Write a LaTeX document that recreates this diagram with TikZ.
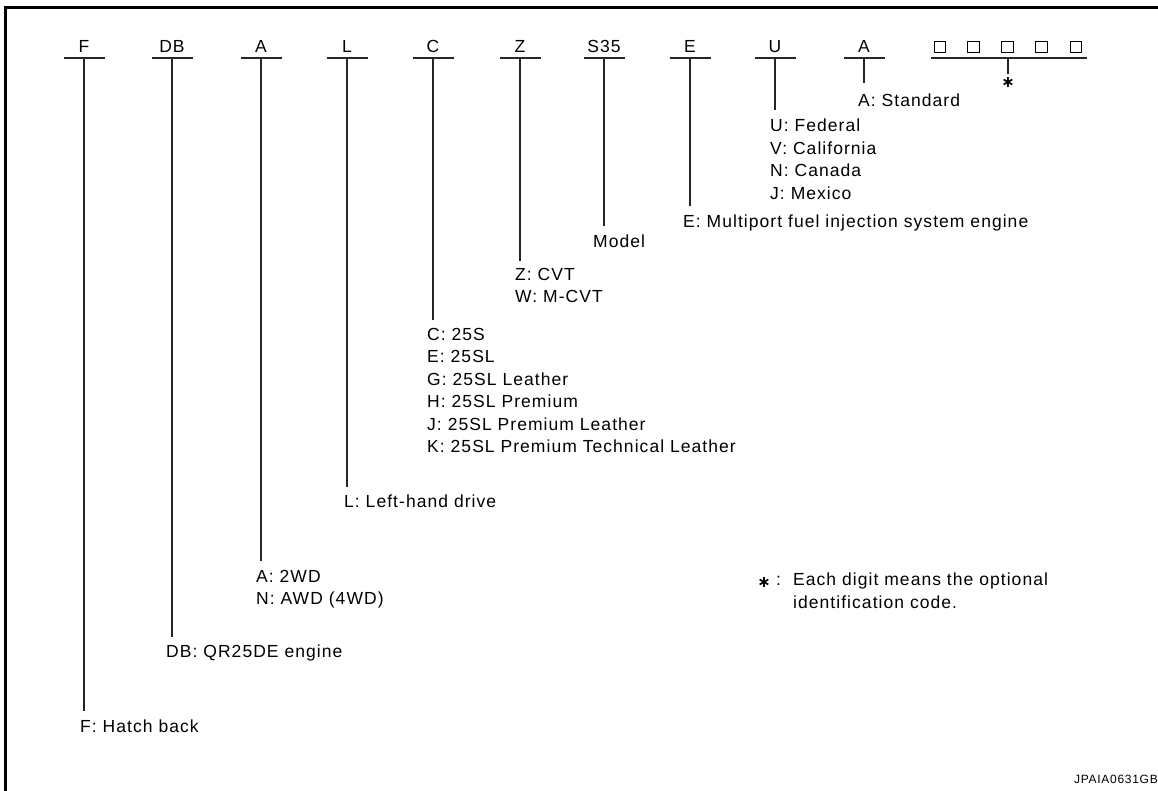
\documentclass[tikz,border=0pt]{standalone}
\usepackage{fontspec}
\setmainfont{Liberation Sans}[LetterSpace=6]
\newfontfamily\djv{DejaVu Sans}
\begin{document}
\begin{tikzpicture}[x=1pt,y=-1pt,
  ln/.style={line width=1.3pt,black!85},
  frame/.style={line width=3pt,black},
  code/.style={font=\fontsize{17.5}{22.5}\selectfont,inner sep=0pt,anchor=base},
  desc/.style={font=\fontsize{17.5}{22.5}\selectfont,inner sep=0pt,align=left,anchor=north west},
  box/.style={draw,line width=1.1pt,minimum size=11.5pt,inner sep=0pt},
  starmark/.style={font=\djv\bfseries\fontsize{16}{16}\selectfont,inner sep=0pt}]
\useasboundingbox (0,0) rectangle (1158,791);
% frame
\draw[frame] (5.5,791) -- (5.5,8) -- (1158,8);
% codes
\foreach \n/\t/\x/\yb in {F/F/84/711, DB/DB/172/637, A/A/261/561, L/L/347/487, C/C/433/320, Z/Z/520/261, S/S35/604/226, E/E/690/206, U/U/775/110, A2/A/864/83}{
  \node[code] (c\n) at (\x,53) {\t};
  \coordinate (h\n) at (\x,58);
  \coordinate (e\n) at (\x,\yb);
  \draw[ln] ([xshift=-20.5pt]h\n) -- ([xshift=20.5pt]h\n);
  \draw[ln] (h\n) -- (e\n);
}
% descriptions
\node[desc] (dF) at (80,720) {F: Hatch back};
\node[desc] (dDB) at (166,645) {DB: QR25DE engine};
\node[desc] (dA) at (256,570) {A: 2WD\\N: AWD (4WD)};
\node[desc] (dL) at (344,495) {L: Left-hand drive};
\node[desc] (dC) at (427,328) {C: 25S\\E: 25SL\\G: 25SL Leather\\H: 25SL Premium\\J: 25SL Premium Leather\\K: 25SL Premium Technical Leather};
\node[desc] (dZ) at (515,268) {Z: CVT\\W: M-CVT};
\node[desc] (dS) at (593,235) {Model};
\node[desc] (dE) at (683,215) {E: Multiport fuel injection system engine};
\node[desc] (dU) at (770,119) {U: Federal\\V: California\\N: Canada\\J: Mexico};
\node[desc] (dA2) at (858,94) {A: Standard};
% optional code boxes
\foreach \i/\x in {1/940,2/973.5,3/1007.5,4/1041.5,5/1076}{
  \node[box] (b\i) at (\x,47) {};
}
\coordinate (hbL) at (931,58);
\coordinate (hbR) at (1087,58);
\coordinate (hbM) at (1008,58);
\coordinate (hbE) at (1008,74);
\draw[ln] (hbL) -- (hbR);
\draw[ln] (hbM) -- (hbE);
\node[starmark] (st) at (1008,82) {∗};
% legend
\node[starmark] (lst) at (764,582) {∗};
\node[code,anchor=base west] (lcol) at (776,585) {:};
\node[desc] (leg) at (793,573) {Each digit means the optional\\identification code.};
% figure id
\node[font=\fontsize{12}{14}\selectfont,inner sep=0pt,anchor=base east] (fid) at (1158,783) {JPAIA0631GB};
\end{tikzpicture}
\end{document}
